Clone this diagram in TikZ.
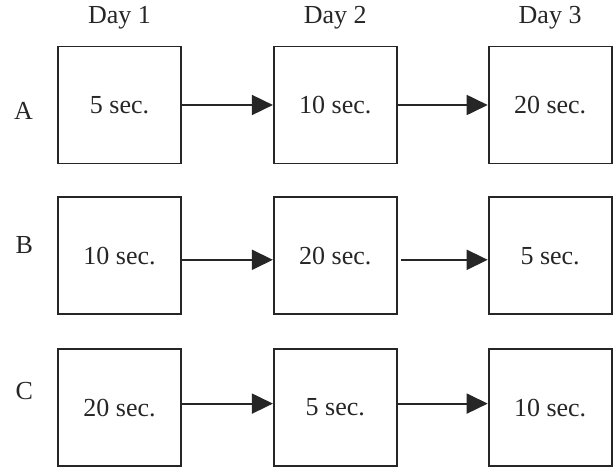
\documentclass[tikz,border=0pt]{standalone}
\usepackage{fontspec}
\setmainfont{Liberation Serif}
\usetikzlibrary{arrows.meta, positioning}

\begin{document}
\begin{tikzpicture}[
          x=1pt, y=1pt,
          trial/.style={rectangle, draw=black!85, line width=1.8pt, minimum width=123pt, minimum height=117pt, inner sep=0pt, font=\fontsize{26}{30}\selectfont, text=black!85},
          day/.style={inner sep=0pt, font=\fontsize{26}{30}\selectfont, text=black!85},
          group/.style={inner sep=0pt, font=\fontsize{26}{30}\selectfont, text=black!85},
          arrow/.style={-{Triangle[length=21pt, width=20pt]}, line width=1.8pt, black!85}
        ]
          \useasboundingbox (0,0) rectangle (613,-471);
          \node (a1) [trial] at (119.5,-105) {5 sec.};
          \node (a2) [trial, right=91pt of a1] {10 sec.};
          \node (a3) [trial, right=90pt of a2] {20 sec.};
          \node (b1) [trial, below=32pt of a1] {10 sec.};
          \node (b2) [trial, right=91pt of b1] {20 sec.};
          \node (b3) [trial, right=90pt of b2] {5 sec.};
          \node (c1) [trial, below=33pt of b1] {20 sec.};
          \node (c2) [trial, right=91pt of c1] {5 sec.};
          \node (c3) [trial, right=90pt of c2] {10 sec.};
          \node (day1) [day, above=16pt of a1] {Day 1};
          \node (day2) [day, above=16pt of a2] {Day 2};
          \node (day3) [day, above=16pt of a3] {Day 3};
          \node (ga) [group, left=24pt of a1, yshift=-6pt] {A};
          \node (gb) [group, left=24pt of b1, yshift=11pt] {B};
          \node (gc) [group, left=24pt of c1, yshift=17pt] {C};
          \draw [arrow] (a1) -- (a2);
          \draw [arrow] (a2) -- (a3);
          \draw [arrow] ([yshift=-4pt]b1.east) -- ([yshift=-4pt]b2.west);
          \draw [arrow, shorten <=3pt] ([yshift=-4pt]b2.east) -- ([yshift=-4pt]b3.west);
          \draw [arrow] ([yshift=4pt]c1.east) -- ([yshift=4pt]c2.west);
          \draw [arrow] ([yshift=4pt]c2.east) -- ([yshift=4pt]c3.west);
        \end{tikzpicture}
\end{document}
